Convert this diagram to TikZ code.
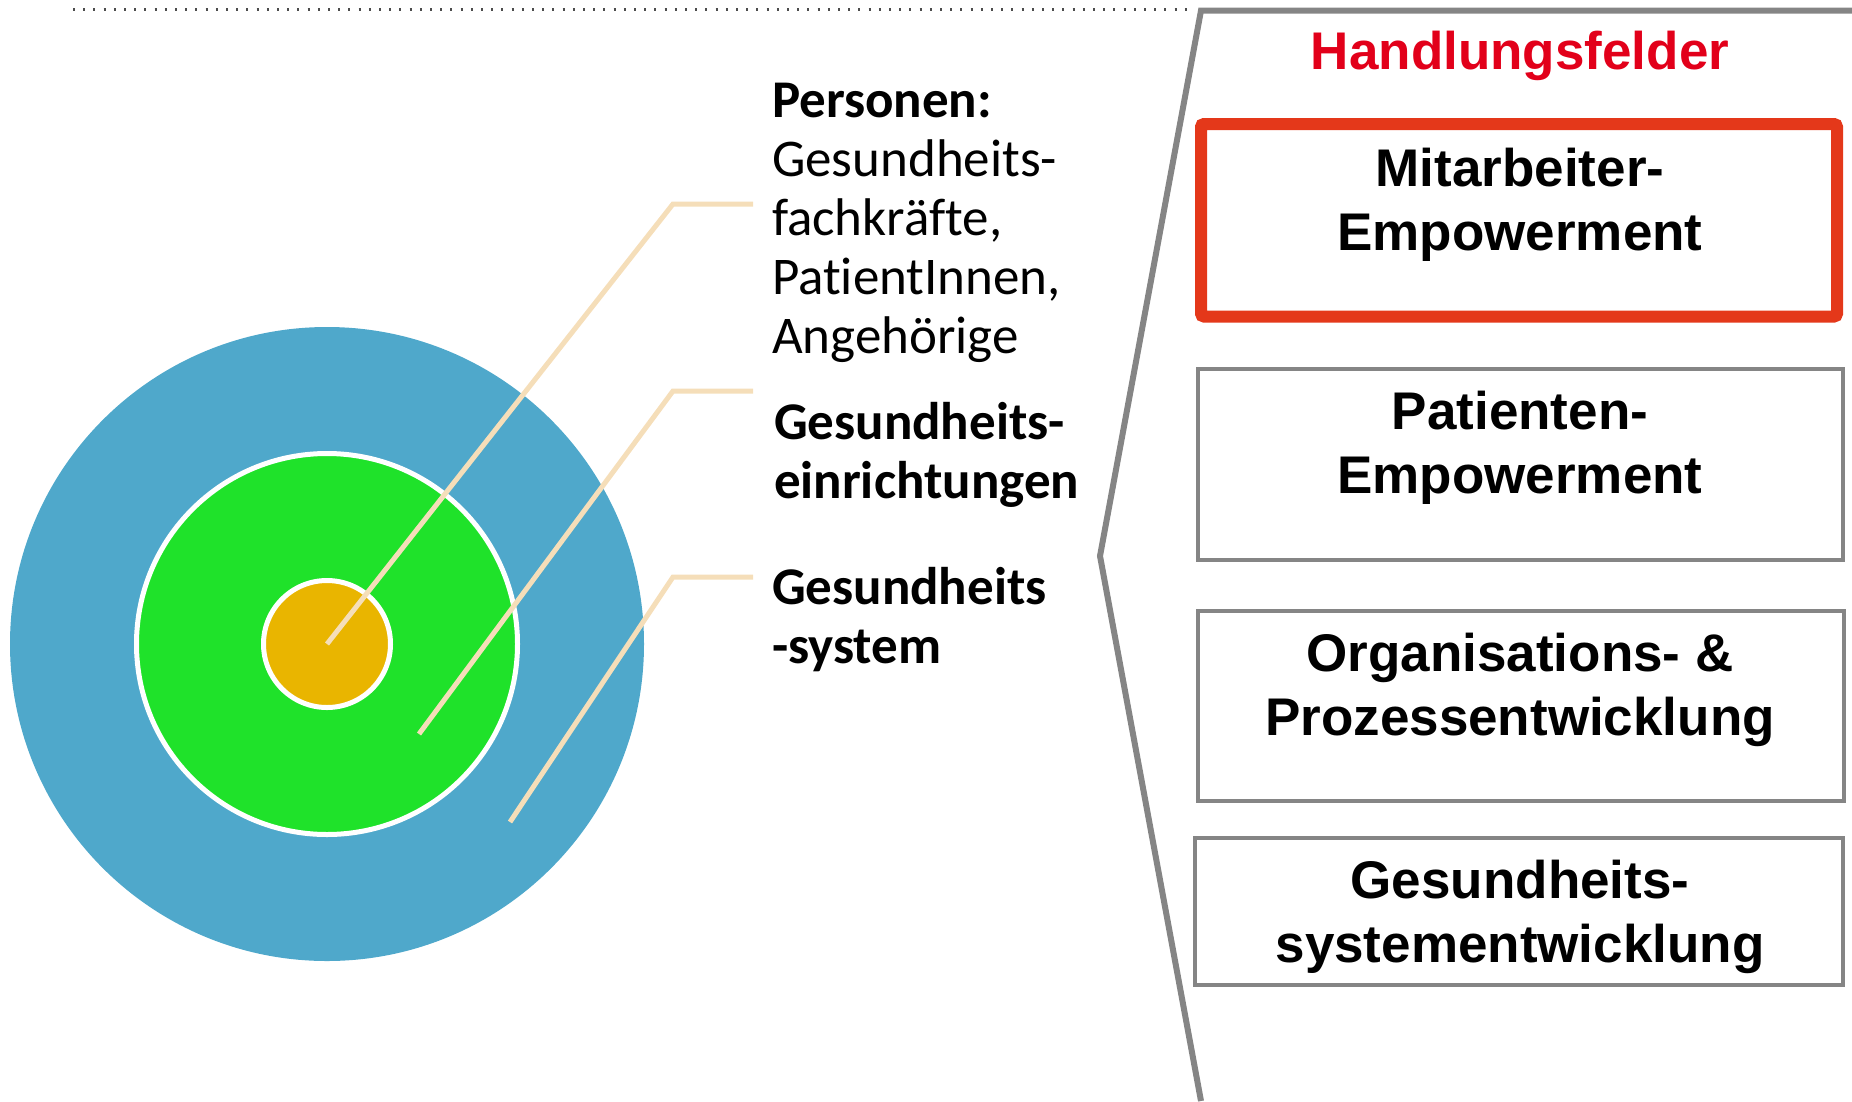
\documentclass[tikz,border=0pt]{standalone}
\usepackage{fontspec}
\newfontfamily\carlito[Ligatures={NoCommon,NoRare,NoDiscretionary,NoContextual}]{Carlito}
\newfontfamily\arialf{Liberation Sans}
\definecolor{ringblue}{HTML}{4FA8CB}
\definecolor{ringgreen}{HTML}{1FE22A}
\definecolor{ringgold}{HTML}{E9B500}
\definecolor{leadertan}{HTML}{F5DEB9}
\definecolor{boxgray}{HTML}{858585}
\definecolor{boxred}{HTML}{E4381A}
\definecolor{titlered}{HTML}{E2001A}
\begin{document}
\begin{tikzpicture}[x=1pt,y=-1pt,
  leftlabel/.style={inner sep=0pt,outer sep=0pt,anchor=west,align=left,
    font=\carlito\fontsize{53}{59}\selectfont},
  leftbold/.style={leftlabel,font=\carlito\bfseries\fontsize{53}{59}\selectfont},
  fieldbox/.style={draw=boxgray,line width=4pt,inner sep=0pt,outer sep=0pt},
  fieldtext/.style={inner sep=0pt,outer sep=0pt,align=center,
    font=\arialf\bfseries\fontsize{53}{63.5}\selectfont},
  leader/.style={draw=leadertan,line width=5pt},
  ring/.style={circle,inner sep=0pt,outer sep=0pt}]
\useasboundingbox (0,0) rectangle (1852,1101);
% top dotted rule and gray bracket
\draw[black!70,line width=2.5pt,dash pattern=on 2pt off 8.2pt] (73,9.5) -- (1192,9.5);
\draw[boxgray,line width=6pt,line join=miter] (1852,10.5) -- (1201,10.5) -- (1100,556) -- (1201,1101);
% target circles
\node[ring,fill=ringblue,minimum size=634pt] (outer) at (327,644) {};
\node[ring,fill=ringgreen,draw=white,line width=5pt,minimum size=381pt] (middle) at (327,644) {};
\node[ring,fill=ringgold,draw=white,line width=5pt,minimum size=127pt] (inner) at (327,644) {};
% leader lines
\coordinate (l1s) at (327,644);
\coordinate (l1k) at (673,204);
\coordinate (l1e) at (753,204);
\coordinate (l2s) at (419,734);
\coordinate (l2k) at (673,391);
\coordinate (l2e) at (753,391);
\coordinate (l3s) at (510,822);
\coordinate (l3k) at (673,577);
\coordinate (l3e) at (753,577);
\draw[leader] (l1s) -- (l1k) -- (l1e);
\draw[leader] (l2s) -- (l2k) -- (l2e);
\draw[leader] (l3s) -- (l3k) -- (l3e);
% left labels
\node[leftlabel] (personen) at (772,223) {\textbf{Personen:}\\Gesundheits-\\fachkräfte,\\PatientInnen,\\Angehörige};
\node[leftbold] (einr) at (774,455) {Gesundheits-\\einrichtungen};
\node[leftbold] (system) at (772,620) {Gesundheits\\-system};
% right column
\node[inner sep=0pt,anchor=base,text=titlered,font=\arialf\bfseries\fontsize{53}{63}\selectfont] (title) at (1520,69) {Handlungsfelder};
\node[fieldbox] (box2) at (1520.25,464.5) [minimum width=645.5pt,minimum height=191pt] {};
\node[fieldbox] (box3) at (1520.5,705.75) [minimum width=646pt,minimum height=189.5pt] {};
\node[fieldbox] (box4) at (1519,911.5) [minimum width=648pt,minimum height=147pt] {};
\node[draw=boxred,line width=12pt,rounded corners=3pt,inner sep=0pt,outer sep=0pt,minimum width=636pt,minimum height=192.5pt] (box1) at (1519,220.25) {};
\node[fieldtext] (t1) at (1520,205) {Mitarbeiter-\\Empowerment};
\node[fieldtext] (t2) at (1520,448) {Patienten-\\Empowerment};
\node[fieldtext] (t3) at (1520,690) {Organisations- \&\\Prozessentwicklung};
\node[fieldtext] (t4) at (1520,917) {Gesundheits-\\systementwicklung};
\end{tikzpicture}
\end{document}
